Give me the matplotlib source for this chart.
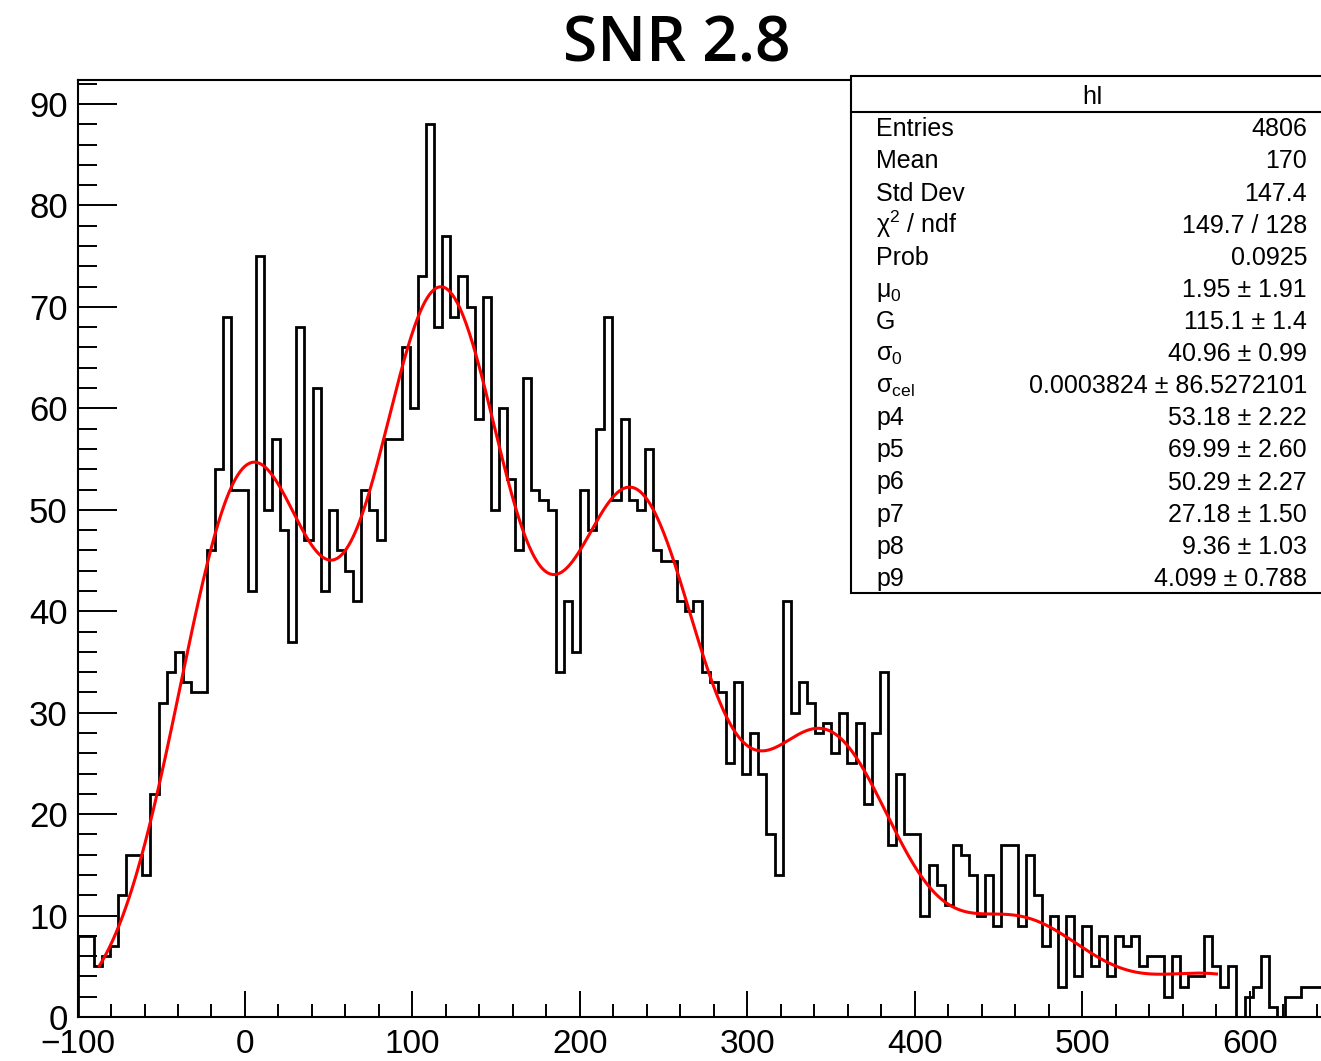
import numpy as np
import matplotlib
matplotlib.use("Agg")
import matplotlib.pyplot as plt
from matplotlib.ticker import MultipleLocator
from matplotlib.patches import Rectangle
from matplotlib.lines import Line2D

plt.rcParams["font.family"] = ["Liberation Sans", "DejaVu Sans"]
plt.rcParams["mathtext.fontset"] = "custom"
plt.rcParams["mathtext.rm"] = "Liberation Sans"
plt.rcParams["mathtext.it"] = "Liberation Sans:italic"
plt.rcParams["mathtext.bf"] = "Liberation Sans:bold"

# ---- histogram hI : 155 bins on [-100, 650] (bins beyond ~642 fall outside the canvas)
x_low, x_high, n_bins = -100.0, 650.0, 155
counts = [
    8, 8, 5, 6, 7, 12, 16, 16, 14, 22,
    31, 34, 36, 33, 32, 32, 46, 54, 69, 52,
    52, 42, 75, 50, 57, 48, 37, 68, 47, 62,
    42, 50, 46, 44, 41, 52, 50, 47, 57, 57,
    66, 60, 73, 88, 68, 77, 69, 73, 70, 59,
    71, 50, 60, 53, 46, 63, 52, 51, 50, 34,
    41, 36, 52, 48, 58, 69, 51, 59, 51, 50,
    56, 46, 45, 45, 41, 40, 41, 34, 33, 32,
    25, 33, 24, 28, 24, 18, 14, 41, 30, 33,
    31, 28, 29, 26, 30, 25, 29, 21, 28, 34,
    17, 24, 18, 18, 10, 15, 13, 11, 17, 16,
    14, 10, 14, 9, 17, 17, 9, 16, 12, 7,
    10, 3, 10, 4, 9, 5, 8, 4, 8, 7,
    8, 5, 6, 6, 2, 6, 3, 4, 4, 8,
    5, 3, 5, 0, 2, 3, 6, 1, 0, 2,
    2, 3, 3, 3,
]

# ---- fit: sum of equally spaced gaussians (pedestal + photo-electron peaks)
mu0 = 1.95
gain = 115.1
sigma0 = 40.96
sigma_cel = 0.0003824
peak_amps = [53.18, 69.99, 50.29, 27.18, 9.36, 4.099]
fit_range = (-87.0, 580.0)

# ---- statistics box
stats_title = "hI"
stats_labels = ["Entries", "Mean", "Std Dev", "\u03c7$^{2}$ / ndf", "Prob",
                "\u03bc$_{0}$", "G", "\u03c3$_{0}$", "\u03c3$_{\\mathregular{cel}}$",
                "p4", "p5", "p6", "p7", "p8", "p9"]
stats_values = ["4806", "170", "147.4", "149.7 / 128", "0.0925",
                "1.95 \u00b1 1.91", "115.1 \u00b1 1.4", "40.96 \u00b1 0.99",
                "0.0003824 \u00b1 86.5272101", "53.18 \u00b1 2.22",
                "69.99 \u00b1 2.60", "50.29 \u00b1 2.27", "27.18 \u00b1 1.50",
                "9.36 \u00b1 1.03", "4.099 \u00b1 0.788"]

title_text = "SNR 2.8"

W, H = 1321, 1061
fig = plt.figure(figsize=(W / 100, H / 100), dpi=100)
fig.patch.set_facecolor("white")

px_per_x = 1.675
px_per_y = 10.144
ax_left_px, ax_bottom_px, ax_top_px = 77.5, 1017.0, 80.0
ax = fig.add_axes([ax_left_px / W, (H - ax_bottom_px) / H,
                   (x_high - x_low) * px_per_x / W, (ax_bottom_px - ax_top_px) / H])
ax.set_xlim(x_low, x_high)
ax.set_ylim(0, (ax_bottom_px - ax_top_px) / px_per_y)

bin_w = (x_high - x_low) / n_bins
edges = x_low + bin_w * np.arange(len(counts) + 1)
ax.stairs(counts, edges, color="black", linewidth=2.0, baseline=0, zorder=2)

xf = np.linspace(fit_range[0], fit_range[1], 1000)
yf = np.zeros_like(xf)
for n, a in enumerate(peak_amps):
    s2 = sigma0 ** 2 + n * sigma_cel ** 2
    yf += a * np.exp(-(xf - mu0 - n * gain) ** 2 / (2 * s2))
ax.plot(xf, yf, color="red", linewidth=2.2, zorder=3)

for side in ("left", "bottom", "top"):
    ax.spines[side].set_linewidth(1.5)
ax.spines["right"].set_visible(False)

ax.xaxis.set_major_locator(MultipleLocator(100))
ax.xaxis.set_minor_locator(MultipleLocator(20))
ax.yaxis.set_major_locator(MultipleLocator(10))
ax.yaxis.set_minor_locator(MultipleLocator(2))
ax.tick_params(axis="x", which="major", direction="in", length=19, width=1.4,
               labelsize=24, pad=8.5)
ax.tick_params(axis="x", which="minor", direction="in", length=9.5, width=1.4)
ax.tick_params(axis="y", which="major", direction="in", length=28, width=1.4,
               labelsize=25, pad=7)
ax.tick_params(axis="y", which="minor", direction="in", length=14, width=1.4)

fig.text(677 / W, 1 - 45 / H, title_text, ha="center", va="center",
         fontsize=45, family=["Open Sans", "DejaVu Sans"], weight="semibold")

# statistics box drawn in figure pixels
def fx(px):
    return px / W

def fy(py):
    return 1 - py / H

box_l, box_r, box_t, box_b = 851, 1340, 76, 593
fig.patches.append(Rectangle((fx(box_l), fy(box_b)), fx(box_r - box_l), (box_b - box_t) / H,
                             transform=fig.transFigure, facecolor="white",
                             edgecolor="black", linewidth=1.5, zorder=5))
fig.lines.append(Line2D([fx(box_l), fx(box_r)], [fy(112), fy(112)],
                        transform=fig.transFigure, color="black", linewidth=1.5, zorder=6))
fig.text(fx(1093), fy(104), stats_title, ha="center", va="baseline",
         fontsize=18, zorder=7)
for i, (lab, val) in enumerate(zip(stats_labels, stats_values)):
    yb = 127.4 + 32.1 * i + 9
    fig.text(fx(876), fy(yb), lab, ha="left", va="baseline", fontsize=18, zorder=7)
    fig.text(fx(1307), fy(yb), val, ha="right", va="baseline", fontsize=18, zorder=7)

fig.savefig("out.png", dpi=100)
